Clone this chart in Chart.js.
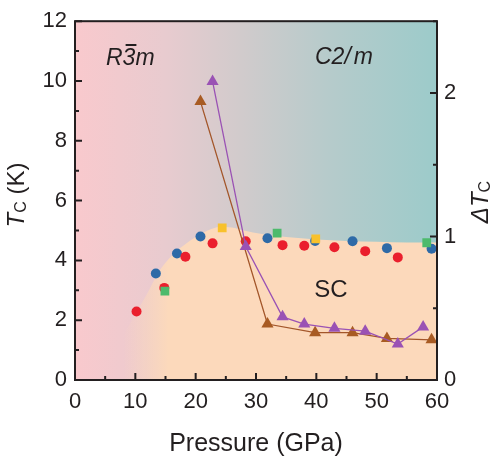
<!DOCTYPE html>
<html>
<head>
<meta charset="utf-8">
<script src="https://cdn.jsdelivr.net/npm/chart.js@4/dist/chart.umd.min.js"></script>
<style>
html,body{margin:0;padding:0;background:#fff;}
#wrap{width:500px;height:463px;}
</style>
</head>
<body>
<div id="wrap"><canvas id="c" width="500" height="463"></canvas></div>
<script>
// ---- data ----
const xTicks = [0, 10, 20, 30, 40, 50, 60];
const yTicks = [0, 2, 4, 6, 8, 10, 12];
const y2Ticks = [0, 1, 2];

const redP  = [10.2, 14.8, 18.3, 22.8, 28.3, 34.4, 38.0, 43.0, 48.1, 53.5];
const redTc = [2.29, 3.08, 4.12, 4.57, 4.64, 4.51, 4.49, 4.44, 4.31, 4.10];

const blueP  = [13.4, 16.9, 20.8, 31.9, 39.8, 46.0, 51.7, 59.1];
const blueTc = [3.56, 4.23, 4.80, 4.74, 4.65, 4.64, 4.41, 4.39];

const greenP  = [14.9, 33.5, 58.3];
const greenTc = [2.97, 4.91, 4.59];

const yellowP  = [24.4, 39.9];
const yellowTc = [5.09, 4.72];

const brownP  = [20.8, 31.9, 39.8, 46.0, 51.7, 59.1];
const brownDT = [1.94, 0.39, 0.33, 0.33, 0.29, 0.28];

const purpleP  = [22.8, 28.3, 34.4, 38.0, 43.0, 48.1, 53.5, 57.7];
const purpleDT = [2.08, 0.93, 0.44, 0.39, 0.36, 0.34, 0.25, 0.37];

// SC dome outline (read from the shaded region)
const domeP  = [8, 10, 12, 14, 16, 18, 20, 22, 24, 26, 28, 31, 35, 40, 45, 50, 55, 60];
const domeTc = [1.5, 2.2, 2.9, 3.65, 4.15, 4.5, 4.78, 5.0, 5.12, 5.1, 5.0, 4.88, 4.78, 4.7, 4.65, 4.62, 4.6, 4.6];

const zip = (a, b) => a.map((v, i) => ({x: v, y: b[i]}));

const FONT = "'Liberation Sans', Arial, sans-serif";
const INK = '#231f20';

const bgPlugin = {
  id: 'bg',
  beforeDatasetsDraw(chart) {
    const {ctx, chartArea: a} = chart;
    const g = ctx.createLinearGradient(a.left, 0, a.right, 0);
    g.addColorStop(0, '#f9c9cd');
    g.addColorStop(0.25, '#e8cbcf');
    g.addColorStop(0.45, '#d2cbcc');
    g.addColorStop(0.7, '#b6cbcb');
    g.addColorStop(1, '#9ccbca');
    ctx.save();
    ctx.fillStyle = g;
    ctx.fillRect(a.left, a.top, a.right - a.left, a.bottom - a.top);
    ctx.restore();
  }
};

const framePlugin = {
  id: 'frame',
  afterDatasetsDraw(chart) {
    const {ctx, chartArea: a, scales} = chart;
    const xs = scales.x, ys = scales.y, y2 = scales.y2;
    ctx.save();
    ctx.strokeStyle = INK;
    ctx.lineWidth = 2;
    ctx.beginPath();
    for (let v = 0; v <= 60; v += 5) {
      const px = xs.getPixelForValue(v);
      const len = v % 10 === 0 ? 7 : 4;
      ctx.moveTo(px, a.bottom); ctx.lineTo(px, a.bottom - len);
    }
    for (let v = 0; v <= 12; v += 1) {
      const py = ys.getPixelForValue(v);
      const len = v % 2 === 0 ? 7 : 4;
      ctx.moveTo(a.left, py); ctx.lineTo(a.left + len, py);
    }
    for (let v = 0; v <= 2.5; v += 0.5) {
      const py = y2.getPixelForValue(v);
      const len = Number.isInteger(v) ? 7 : 4;
      ctx.moveTo(a.right, py); ctx.lineTo(a.right - len, py);
    }
    ctx.stroke();
    ctx.strokeRect(a.left, a.top, a.right - a.left, a.bottom - a.top);

    ctx.fillStyle = INK;
    ctx.textBaseline = 'alphabetic';
    ctx.textAlign = 'left';
    ctx.font = 'italic 23px ' + FONT;
    let x0 = 106, yb = 65;
    ctx.fillText('R', x0, yb);
    const wR = ctx.measureText('R').width;
    ctx.fillText('3', x0 + wR, yb);
    const w3 = ctx.measureText('3').width;
    ctx.lineWidth = 2;
    ctx.beginPath();
    ctx.moveTo(x0 + wR + 3, yb - 20);
    ctx.lineTo(x0 + wR + w3 + 1, yb - 20);
    ctx.stroke();
    ctx.fillText('m', x0 + wR + w3, yb);

    ctx.fillText('C2/', 315, 64);
    const wc = ctx.measureText('C2/').width;
    ctx.fillText('m', 315 + wc + 3, 64);

    ctx.font = '24px ' + FONT;
    ctx.textAlign = 'center';
    ctx.fillText('SC', 331, 297);

    const drawSubTitle = (cx, cy, pre, main, sub, post) => {
      ctx.save();
      ctx.translate(cx, cy);
      ctx.rotate(-Math.PI / 2);
      ctx.textAlign = 'left';
      ctx.textBaseline = 'middle';
      const fMain = 'italic 24px ' + FONT, fSub = '16px ' + FONT, fPost = '24px ' + FONT;
      ctx.font = fMain; const wPre = pre ? ctx.measureText(pre).width : 0;
      ctx.font = fMain; const wMain = ctx.measureText(main).width;
      ctx.font = fSub; const wSub = ctx.measureText(sub).width;
      ctx.font = fPost; const wPost = post ? ctx.measureText(post).width : 0;
      let x = -(wPre + wMain + wSub + wPost) / 2;
      if (pre) { ctx.font = fMain; ctx.fillText(pre, x, 0); x += wPre; }
      ctx.font = fMain; ctx.fillText(main, x, 0); x += wMain;
      ctx.font = fSub; ctx.fillText(sub, x, 5); x += wSub;
      if (post) { ctx.font = fPost; ctx.fillText(post, x, 0); }
      ctx.restore();
    };
    drawSubTitle(17, 195, '', 'T', 'C', ' (K)');
    drawSubTitle(481, 202, 'Δ', 'T', 'C', '');
    ctx.restore();
  }
};

const domeFill = (c) => {
  const chart = c.chart;
  const a = chart.chartArea;
  if (!a) return 'rgba(252,217,187,1)';
  const xs = chart.scales.x;
  const g = chart.ctx.createLinearGradient(xs.getPixelForValue(8), 0, xs.getPixelForValue(15.5), 0);
  g.addColorStop(0, 'rgba(252,217,187,0)');
  g.addColorStop(1, 'rgba(252,217,187,1)');
  return g;
};

new Chart(document.getElementById('c'), {
  type: 'scatter',
  data: {
    datasets: [
      {label: 'purple', type: 'line', data: zip(purpleP, purpleDT), yAxisID: 'y2',
       borderColor: '#9a52b4', backgroundColor: '#9a52b4', borderWidth: 1.3,
       pointStyle: 'triangle', pointRadius: 7, pointBorderWidth: 0, tension: 0, order: 1},
      {label: 'brown', type: 'line', data: zip(brownP, brownDT), yAxisID: 'y2',
       borderColor: '#a3562a', backgroundColor: '#a85b23', borderWidth: 1.3,
       pointStyle: 'triangle', pointRadius: 7, pointBorderWidth: 0, tension: 0, order: 2},
      {label: 'yellow', data: zip(yellowP, yellowTc), yAxisID: 'y',
       backgroundColor: '#f8c12c', pointStyle: 'rect', pointRadius: 6.2, pointBorderWidth: 0, order: 3},
      {label: 'green', data: zip(greenP, greenTc), yAxisID: 'y',
       backgroundColor: '#4dba6c', pointStyle: 'rect', pointRadius: 6.2, pointBorderWidth: 0, order: 4},
      {label: 'red', data: zip(redP, redTc), yAxisID: 'y',
       backgroundColor: '#ea1f2d', pointRadius: 5, pointBorderWidth: 0, order: 5},
      {label: 'blue', data: zip(blueP, blueTc), yAxisID: 'y',
       backgroundColor: '#2e6aa7', pointRadius: 5, pointBorderWidth: 0, order: 6},
      {label: 'dome', type: 'line', data: zip(domeP, domeTc), yAxisID: 'y',
       borderWidth: 0, borderColor: 'rgba(0,0,0,0)', pointRadius: 0, fill: 'origin',
       backgroundColor: domeFill, tension: 0.4, cubicInterpolationMode: 'monotone', order: 10}
    ]
  },
  options: {
    responsive: false,
    animation: false,
    events: [],
    layout: {padding: {top: 19, left: 0, right: 0, bottom: 0}},
    plugins: {legend: {display: false}, tooltip: {enabled: false}},
    scales: {
      x: {
        type: 'linear', min: 0, max: 60,
        afterBuildTicks: s => { s.ticks = xTicks.map(v => ({value: v})); },
        afterFit: s => { s.height = 83; },
        grid: {display: false, drawTicks: false},
        border: {display: false},
        ticks: {color: INK, font: {family: FONT, size: 22}, padding: 9, maxRotation: 0, autoSkip: false},
        title: {display: true, text: 'Pressure (GPa)', color: INK, font: {family: FONT, size: 25}, padding: {top: 8}}
      },
      y: {
        type: 'linear', position: 'left', min: 0, max: 12,
        afterBuildTicks: s => { s.ticks = yTicks.map(v => ({value: v})); },
        afterFit: s => { s.width = 75; },
        grid: {display: false, drawTicks: false},
        border: {display: false},
        ticks: {color: INK, font: {family: FONT, size: 22}, padding: 8}
      },
      y2: {
        type: 'linear', position: 'right', min: 0, max: 2.5,
        afterBuildTicks: s => { s.ticks = y2Ticks.map(v => ({value: v})); },
        afterFit: s => { s.width = 63; },
        grid: {display: false, drawTicks: false},
        border: {display: false},
        ticks: {color: INK, font: {family: FONT, size: 22}, padding: 7}
      }
    }
  },
  plugins: [bgPlugin, framePlugin]
});
</script>
</body>
</html>
